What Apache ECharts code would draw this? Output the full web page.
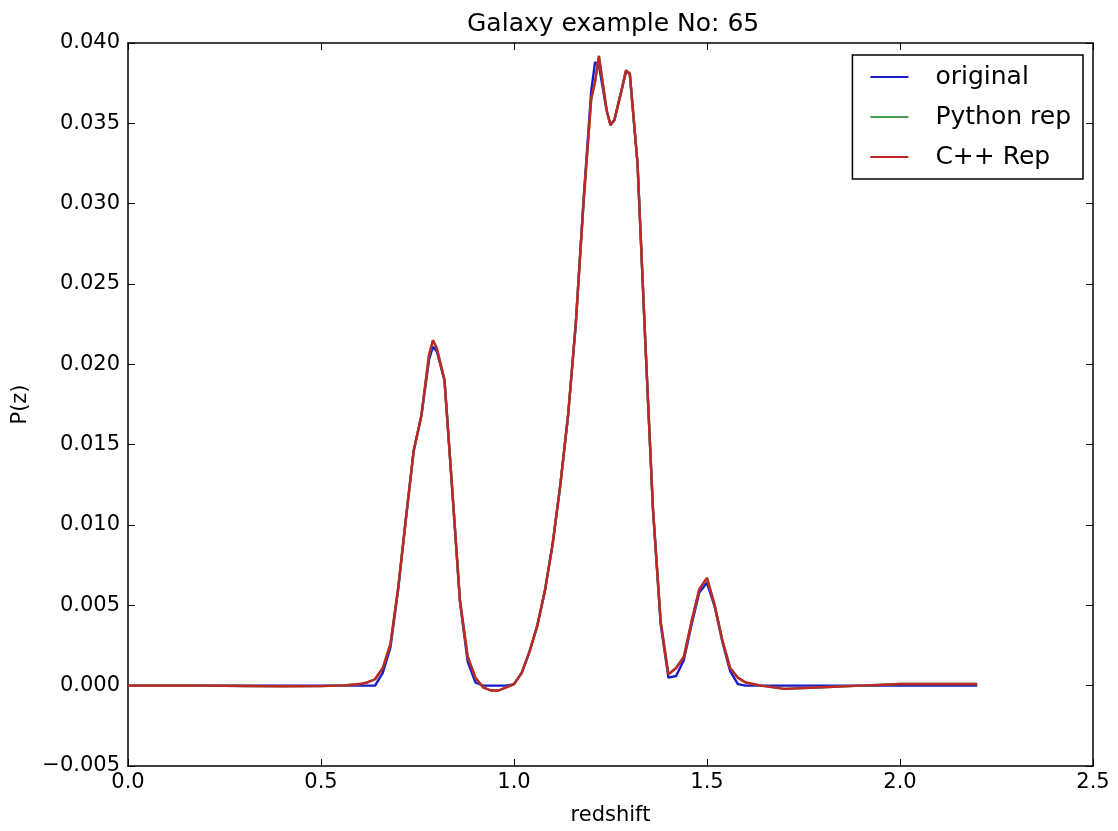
<!DOCTYPE html>
<html>
<head>
<meta charset="UTF-8">
<title>Galaxy example No: 65</title>
<script src="https://cdn.jsdelivr.net/npm/echarts@6/dist/echarts.min.js"></script>
<style>
  html, body { margin: 0; padding: 0; background: #fff; }
  #main { width: 1118px; height: 831px; }
</style>
</head>
<body>
<div id="main"></div>
<script>
// redshift grid (shared by all three curves)
var redshift = [0, 0.1, 0.2, 0.3, 0.4, 0.5, 0.56, 0.6, 0.62, 0.64, 0.66, 0.68, 0.70, 0.72, 0.74, 0.76, 0.78, 0.79, 0.80,
  0.82, 0.84, 0.86, 0.88, 0.90, 0.92, 0.94, 0.96, 0.98, 1.00, 1.02, 1.04, 1.06, 1.08, 1.10, 1.12, 1.14, 1.16, 1.18,
  1.20, 1.21, 1.22, 1.24, 1.25, 1.26, 1.28, 1.29, 1.30, 1.32, 1.34, 1.36, 1.38, 1.40, 1.42, 1.44, 1.46, 1.48, 1.50,
  1.52, 1.54, 1.56, 1.58, 1.60, 1.64, 1.70, 1.80, 1.90, 2.00, 2.10, 2.20];

var original = [0, 0, 0, 0, 0, 0, 0, 0, 0, 0, 0.0008, 0.0024, 0.0060, 0.0104, 0.0146, 0.0168, 0.0203, 0.0211, 0.0208,
  0.0190, 0.0122, 0.0052, 0.0015, 0.0002, 0, 0, 0, 0, 0.0001, 0.0008, 0.0021, 0.0037, 0.0059, 0.0088, 0.0125, 0.0168, 0.0225, 0.0302,
  0.0370, 0.0388, 0.0386, 0.0358, 0.0349, 0.0352, 0.0372, 0.0382, 0.0381, 0.0325, 0.0215, 0.0110, 0.0038, 0.0005, 0.0006, 0.0016, 0.0038, 0.0058, 0.0064,
  0.0049, 0.0027, 0.0009, 0.0001, 0, 0, 0, 0, 0, 0, 0, 0];

var pythonRep = [0, 0, 0, -0.00002, -0.00004, -0.00003, 0.00002, 0.0001, 0.0002, 0.0004, 0.0011, 0.0026, 0.0061, 0.0104, 0.0146, 0.0168, 0.0206, 0.0215, 0.0210,
  0.0190, 0.0122, 0.0053, 0.0018, 0.0005, -0.0001, -0.0003, -0.0003, -0.0001, 0.0001, 0.0008, 0.0021, 0.0037, 0.0059, 0.0088, 0.0125, 0.0168, 0.0225, 0.0300,
  0.0365, 0.0376, 0.0392, 0.0358, 0.0349, 0.0352, 0.0372, 0.0383, 0.0381, 0.0325, 0.0215, 0.0110, 0.0040, 0.0007, 0.0011, 0.0018, 0.0040, 0.0060, 0.0067,
  0.0050, 0.0028, 0.0011, 0.0005, 0.0002, 0, -0.0002, -0.0001, 0, 0.0001, 0.0001, 0.0001];

var cppRep = [0, 0, 0, -0.00002, -0.00004, -0.00003, 0.00002, 0.0001, 0.0002, 0.0004, 0.0011, 0.0026, 0.0061, 0.0104, 0.0146, 0.0168, 0.0206, 0.0215, 0.0210,
  0.0190, 0.0122, 0.0053, 0.0018, 0.0005, -0.0001, -0.0003, -0.0003, -0.0001, 0.0001, 0.0008, 0.0021, 0.0037, 0.0059, 0.0088, 0.0125, 0.0168, 0.0225, 0.0300,
  0.0365, 0.0376, 0.0392, 0.0358, 0.0349, 0.0352, 0.0372, 0.0383, 0.0381, 0.0325, 0.0215, 0.0110, 0.0040, 0.0007, 0.0011, 0.0018, 0.0040, 0.0060, 0.0067,
  0.0050, 0.0028, 0.0011, 0.0005, 0.0002, 0, -0.0002, -0.0001, 0, 0.0001, 0.0001, 0.0001];

var xTicks = [0, 0.5, 1.0, 1.5, 2.0, 2.5];
var yTicks = [-0.005, 0, 0.005, 0.010, 0.015, 0.020, 0.025, 0.030, 0.035, 0.040];

function pairs(vals) {
  return redshift.map(function (z, i) { return [z, vals[i]]; });
}

var font = 'DejaVu Sans';
var tickStyle = { show: true, inside: true, length: 7, lineStyle: { color: '#000', width: 1 } };
var lineAxis = { show: true, onZero: false, lineStyle: { color: '#000', width: 1.5 } };

var option = {
  animation: false,
  backgroundColor: '#fff',
  // title centred over the plot area, not the page
  title: {
    text: 'Galaxy example No: 65',
    left: 462, top: 7,
    textStyle: { fontFamily: font, fontSize: 25, fontWeight: 'normal', color: '#000' }
  },
  grid: { left: 128, right: 25, top: 43, bottom: 63, containLabel: false },
  legend: {
    orient: 'vertical',
    right: 35, top: 55,
    padding: [9, 12, 9, 18],
    itemGap: 14,
    itemWidth: 38, itemHeight: 2,
    icon: 'rect',
    borderColor: '#000', borderWidth: 1.5, borderRadius: 0,
    backgroundColor: '#fff',
    textStyle: { fontFamily: font, fontSize: 25, lineHeight: 26, color: '#000', padding: [0, 0, 0, 22] },
    data: ['original', 'Python rep', 'C++ Rep']
  },
  xAxis: [
    {
      type: 'value', min: 0, max: 2.5, interval: 0.5, position: 'bottom',
      name: 'redshift', nameLocation: 'middle', nameGap: 39,
      nameTextStyle: { fontFamily: font, fontSize: 21, color: '#000' },
      axisLine: lineAxis, axisTick: tickStyle, splitLine: { show: false },
      axisLabel: {
        fontFamily: font, fontSize: 21, color: '#000', margin: 6,
        formatter: function (v) { return v.toFixed(1); }
      }
    },
    {
      type: 'value', min: 0, max: 2.5, interval: 0.5, position: 'top',
      axisLine: lineAxis, axisTick: tickStyle, splitLine: { show: false },
      axisLabel: { show: false }
    }
  ],
  yAxis: [
    {
      type: 'value', min: -0.005, max: 0.04, interval: 0.005, position: 'left',
      name: 'P(z)', nameLocation: 'middle', nameGap: 97, nameRotate: 90,
      nameTextStyle: { fontFamily: font, fontSize: 21, color: '#000' },
      axisLine: lineAxis, axisTick: tickStyle, splitLine: { show: false },
      axisLabel: {
        fontFamily: font, fontSize: 21, color: '#000', margin: 8,
        formatter: function (v) {
          var s = Math.abs(v).toFixed(3);
          return v < -1e-9 ? '\u2212' + s : s;
        }
      }
    },
    {
      type: 'value', min: -0.005, max: 0.04, interval: 0.005, position: 'right',
      axisLine: lineAxis, axisTick: tickStyle, splitLine: { show: false },
      axisLabel: { show: false }
    }
  ],
  series: [
    {
      name: 'original', type: 'line', data: pairs(original), symbol: 'none',
      itemStyle: { color: '#1a1ac8' }, lineStyle: { color: '#1a1ac8', width: 2.4 }
    },
    {
      name: 'Python rep', type: 'line', data: pairs(pythonRep), symbol: 'none',
      itemStyle: { color: '#4c9a4c' }, lineStyle: { color: '#4c9a4c', width: 2.4 }
    },
    {
      name: 'C++ Rep', type: 'line', data: pairs(cppRep), symbol: 'none',
      itemStyle: { color: '#c02626' }, lineStyle: { color: '#c02626', width: 2.4 }
    }
  ]
};

var myChart = echarts.init(document.getElementById('main'));
myChart.setOption(option);
</script>
</body>
</html>
